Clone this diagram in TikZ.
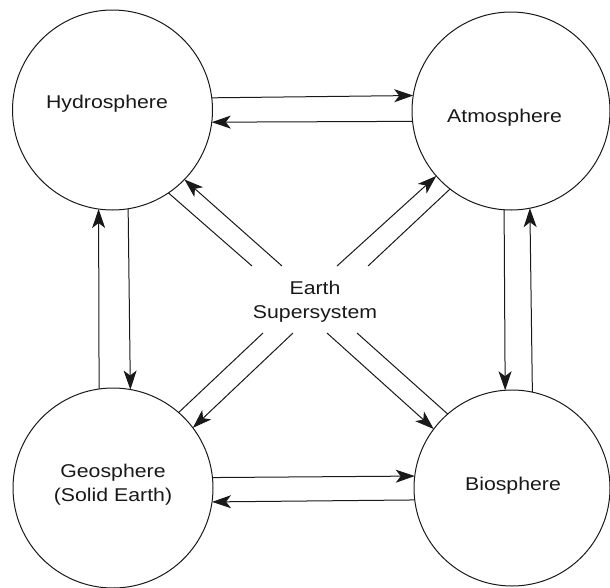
\documentclass[tikz,border=0pt]{standalone}
\usepackage{fontspec}
\setmainfont{Liberation Sans}[FakeStretch=1.15]
\usetikzlibrary{arrows.meta}
\begin{document}
\begin{tikzpicture}[x=1pt,y=-1pt,
  sphere/.style={draw=black!90, circle, inner sep=0pt, outer sep=0pt, line width=1pt},
  lbl/.style={font=\fontsize{18.5}{24}\selectfont, inner sep=0pt, anchor=base, align=center, text=black!90},
  flow/.style={draw=black!90, line width=1pt},
  arr/.style={flow, -{Stealth[length=19pt,width=13pt,inset=5pt]}}]
\useasboundingbox (0,0) rectangle (610,587);
\node[sphere, minimum size=200pt] (hydro) at (112.5,110) {};
\node[sphere, minimum size=198pt] (atmo) at (511,111) {};
\node[sphere, minimum size=200pt] (geo) at (113,488) {};
\node[sphere, minimum size=196pt] (bio) at (512,488) {};
\node[lbl] (hydrotext) at (107,108) {Hydrosphere};
\node[lbl] (atmotext) at (504.5,122) {Atmosphere};
\node[lbl] (geotext) at (113,501) {Geosphere\\(Solid Earth)};
\node[lbl] (biotext) at (513,490) {Biosphere};
\node[lbl] (earthtext) at (315,318) {Earth\\Supersystem};
\coordinate (h1) at (252,266);
\coordinate (h2) at (282,266);
\coordinate (a1) at (337,266);
\coordinate (a2) at (368,266);
\coordinate (g1) at (263,333);
\coordinate (g2) at (293,333);
\coordinate (b1) at (327,333);
\coordinate (b2) at (357,333);
\draw[flow] (h1) -- (hydro.304.7);
\draw[arr] (h2) -- (hydro.316);
\draw[arr] (a1) -- (atmo.221);
\draw[flow] (a2) -- (atmo.232.7);
\draw[flow] (g1) -- (geo.49.3);
\draw[arr] (g2) -- (geo.37.5);
\draw[arr] (b1) -- (bio.143.3);
\draw[flow] (b2) -- (bio.131.3);
\draw[arr] (hydro.7.5) -- (atmo.171.9);
\draw[arr] (atmo.186.4) -- (hydro.353.1);
\draw[arr] (geo.6.3) -- (bio.173.6);
\draw[arr] (bio.187.6) -- (geo.352.5);
\draw[arr] (geo.98) -- (hydro.262.2);
\draw[arr] (hydro.279.5) -- (geo.80.8);
\draw[arr] (atmo.266) -- (bio.94.7);
\draw[arr] (bio.78.8) -- (atmo.281.7);
\end{tikzpicture}
\end{document}
